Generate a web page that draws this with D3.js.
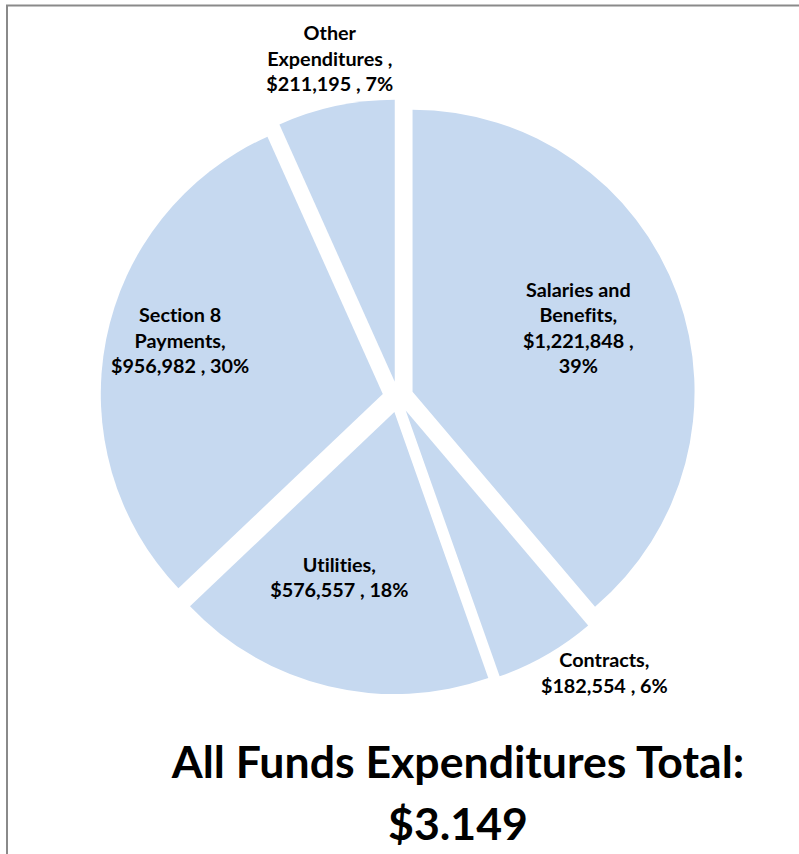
<!DOCTYPE html>
<html>
<head>
<meta charset="utf-8">
<script src="https://cdn.jsdelivr.net/npm/d3@7"></script>
<style>
  html, body { margin: 0; padding: 0; background: #fff; }
  svg { display: block; }
  text { font-family: Lato, "Open Sans", sans-serif; font-weight: 700; fill: #000;
         font-variant-ligatures: none; font-feature-settings: "liga" 0; }
</style>
</head>
<body>
<svg id="chart" width="799" height="854"></svg>
<script>
// Expenditure categories (line breaks mark where the label wraps)
const categories = ["Salaries and\nBenefits", "Contracts", "Utilities", "Section 8\nPayments", "Other\nExpenditures "];
const values = [1221848, 182554, 576557, 956982, 211195];
// Whether the percentage drops to its own line
const percentOwnLine = [true, false, false, false, false];
// Label placement: distance as a fraction of radius and angular nudge in degrees
const labelRadius = [0.63, 1.168, 0.618, 0.743, 1.169];
const labelNudge = [-0.9, -7.2, 4.9, 3.5, 0.7];
const titleLines = ["All Funds Expenditures Total:", "$3.149"];

const W = 799, H = 854;
const cx = 398, cy = 397, R = 282, explode = 15.5;
const fill = "#C6D9F0";

const svg = d3.select("#chart");

// Frame lines along the top and left
svg.append("path")
  .attr("d", `M7,${H} V5.5 H${W}`)
  .attr("fill", "none")
  .attr("stroke", "#8a8a8a")
  .attr("stroke-width", 2);

const data = categories.map((c, i) => ({ name: c, value: values[i], i }));
const total = d3.sum(values);

const pie = d3.pie().sort(null).value(d => d.value).startAngle(0).endAngle(2 * Math.PI);
const arc = d3.arc().innerRadius(0).outerRadius(R);
const arcs = pie(data);

const g = svg.append("g").attr("transform", `translate(${cx},${cy})`);

function offset(a) {
  const mid = (a.startAngle + a.endAngle) / 2;
  return [Math.sin(mid) * explode, -Math.cos(mid) * explode];
}

g.selectAll("path.slice")
  .data(arcs)
  .join("path")
  .attr("class", "slice")
  .attr("d", arc)
  .attr("transform", d => { const [dx, dy] = offset(d); return `translate(${dx},${dy})`; })
  .attr("fill", fill);

const fmt = d3.format(",");
const fontSize = 19.8, lineH = 25.5, capH = 14;

arcs.forEach((a, i) => {
  const nameLines = a.data.name.split("\n");
  const lines = nameLines.slice();
  lines[lines.length - 1] += ",";
  const pct = Math.round(a.data.value / total * 100) + "%";
  const money = "$" + fmt(a.data.value) + " ,";
  if (percentOwnLine[i]) { lines.push(money, pct); } else { lines.push(money + " " + pct); }

  const [ox, oy] = offset(a);
  const mid = (a.startAngle + a.endAngle) / 2 + labelNudge[i] * Math.PI / 180;
  const dist = labelRadius[i] * R;
  const lx = ox + Math.sin(mid) * dist;
  const ly = oy - Math.cos(mid) * dist;
  const n = lines.length;
  const b1 = ly - ((n - 1) * lineH - capH) / 2;

  const t = g.append("text")
    .attr("text-anchor", "middle")
    .attr("font-size", fontSize);
  lines.forEach((s, k) => {
    t.append("tspan").attr("x", lx).attr("y", b1 + k * lineH).text(s);
  });
});

// Title below the pie
const title = svg.append("text")
  .attr("text-anchor", "middle")
  .attr("font-size", 44.6);
titleLines.forEach((s, k) => {
  title.append("tspan").attr("x", 458).attr("y", 778 + k * 62).text(s);
});
</script>
</body>
</html>
